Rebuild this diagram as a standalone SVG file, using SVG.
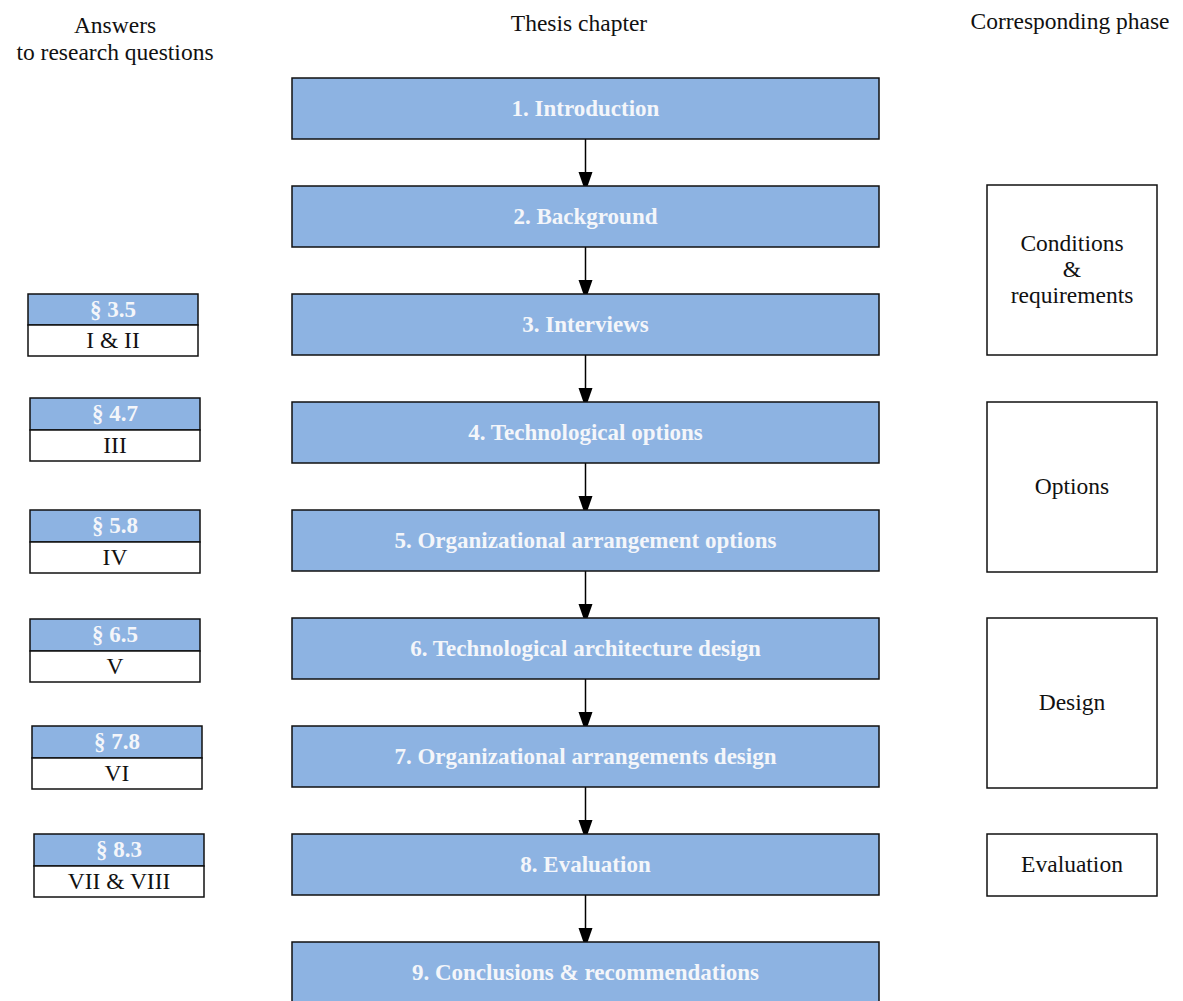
<svg xmlns="http://www.w3.org/2000/svg" width="1183" height="1001" viewBox="0 0 1183 1001">
<defs>
<style>
.hdr{font-family:"Liberation Serif","DejaVu Serif",serif;font-size:23.5px;fill:#111;text-anchor:middle}
.main rect{fill:#8DB3E2;stroke:#111;stroke-width:1.5}
.main text{font-family:"Liberation Serif","DejaVu Serif",serif;font-size:23px;font-weight:bold;fill:#F4F6FA;text-anchor:middle}
.ans rect.t{fill:#8DB3E2;stroke:#111;stroke-width:1.5}
.ans rect.b{fill:#fff;stroke:#111;stroke-width:1.5}
.ans text.t{font-family:"Liberation Serif","DejaVu Serif",serif;font-size:23px;font-weight:bold;fill:#F4F6FA;text-anchor:middle}
.ans text.b{font-family:"Liberation Serif","DejaVu Serif",serif;font-size:23.5px;fill:#111;text-anchor:middle}
.ph rect{fill:#fff;stroke:#111;stroke-width:1.5}
.ph text{font-family:"Liberation Serif","DejaVu Serif",serif;font-size:23.5px;fill:#111;text-anchor:middle}
.conn line{stroke:#000;stroke-width:1.5}
</style>
<marker id="arr" viewBox="0 0 14 20" refX="14" refY="7" markerWidth="14" markerHeight="20" markerUnits="userSpaceOnUse" orient="auto"><path d="M0,0 L20,7 L0,14 Z" fill="#000"/></marker>
</defs>
<rect width="1183" height="1001" fill="#fff"/>
<g id="headers">
<text class="hdr" x="115" y="33">Answers</text>
<text class="hdr" x="115" y="60">to research questions</text>
<text class="hdr" x="579" y="31">Thesis chapter</text>
<text class="hdr" x="1070" y="29">Corresponding phase</text>
</g>
<g id="connectors" class="conn">
<line x1="585.5" y1="139" x2="585.5" y2="186" marker-end="url(#arr)"/>
<line x1="585.5" y1="247" x2="585.5" y2="294" marker-end="url(#arr)"/>
<line x1="585.5" y1="355" x2="585.5" y2="402" marker-end="url(#arr)"/>
<line x1="585.5" y1="463" x2="585.5" y2="510" marker-end="url(#arr)"/>
<line x1="585.5" y1="571" x2="585.5" y2="618" marker-end="url(#arr)"/>
<line x1="585.5" y1="679" x2="585.5" y2="726" marker-end="url(#arr)"/>
<line x1="585.5" y1="787" x2="585.5" y2="834" marker-end="url(#arr)"/>
<line x1="585.5" y1="895" x2="585.5" y2="942" marker-end="url(#arr)"/>
</g>
<g id="ch1" class="main"><rect x="292" y="78" width="587" height="61"/><text x="585.5" y="116">1. Introduction</text></g>
<g id="ch2" class="main"><rect x="292" y="186" width="587" height="61"/><text x="585.5" y="224">2. Background</text></g>
<g id="ch3" class="main"><rect x="292" y="294" width="587" height="61"/><text x="585.5" y="332">3. Interviews</text></g>
<g id="ch4" class="main"><rect x="292" y="402" width="587" height="61"/><text x="585.5" y="440">4. Technological options</text></g>
<g id="ch5" class="main"><rect x="292" y="510" width="587" height="61"/><text x="585.5" y="548">5. Organizational arrangement options</text></g>
<g id="ch6" class="main"><rect x="292" y="618" width="587" height="61"/><text x="585.5" y="656">6. Technological architecture design</text></g>
<g id="ch7" class="main"><rect x="292" y="726" width="587" height="61"/><text x="585.5" y="764">7. Organizational arrangements design</text></g>
<g id="ch8" class="main"><rect x="292" y="834" width="587" height="61"/><text x="585.5" y="872">8. Evaluation</text></g>
<g id="ch9" class="main"><rect x="292" y="942" width="587" height="70"/><text x="585.5" y="980">9. Conclusions &amp; recommendations</text></g>
<g id="ans35" class="ans"><rect class="t" x="28" y="294" width="170" height="31"/><rect class="b" x="28" y="325" width="170" height="31"/><text class="t" x="113" y="317">§ 3.5</text><text class="b" x="113" y="348">I &amp; II</text></g>
<g id="ans47" class="ans"><rect class="t" x="30" y="398" width="170" height="32"/><rect class="b" x="30" y="430" width="170" height="31"/><text class="t" x="115" y="421">§ 4.7</text><text class="b" x="115" y="453">III</text></g>
<g id="ans58" class="ans"><rect class="t" x="30" y="510" width="170" height="32"/><rect class="b" x="30" y="542" width="170" height="31"/><text class="t" x="115" y="533">§ 5.8</text><text class="b" x="115" y="565">IV</text></g>
<g id="ans65" class="ans"><rect class="t" x="30" y="619" width="170" height="32"/><rect class="b" x="30" y="651" width="170" height="31"/><text class="t" x="115" y="642">§ 6.5</text><text class="b" x="115" y="674">V</text></g>
<g id="ans78" class="ans"><rect class="t" x="32" y="726" width="170" height="32"/><rect class="b" x="32" y="758" width="170" height="31"/><text class="t" x="117" y="749">§ 7.8</text><text class="b" x="117" y="781">VI</text></g>
<g id="ans83" class="ans"><rect class="t" x="34" y="834" width="170" height="32"/><rect class="b" x="34" y="866" width="170" height="31"/><text class="t" x="119" y="857">§ 8.3</text><text class="b" x="119" y="889">VII &amp; VIII</text></g>
<g id="ph1" class="ph"><rect x="987" y="185" width="170" height="170"/><text x="1072" y="251">Conditions</text><text x="1072" y="277">&amp;</text><text x="1072" y="303">requirements</text></g>
<g id="ph2" class="ph"><rect x="987" y="402" width="170" height="170"/><text x="1072" y="494">Options</text></g>
<g id="ph3" class="ph"><rect x="987" y="618" width="170" height="170"/><text x="1072" y="710">Design</text></g>
<g id="ph4" class="ph"><rect x="987" y="834" width="170" height="62"/><text x="1072" y="872">Evaluation</text></g>
</svg>
